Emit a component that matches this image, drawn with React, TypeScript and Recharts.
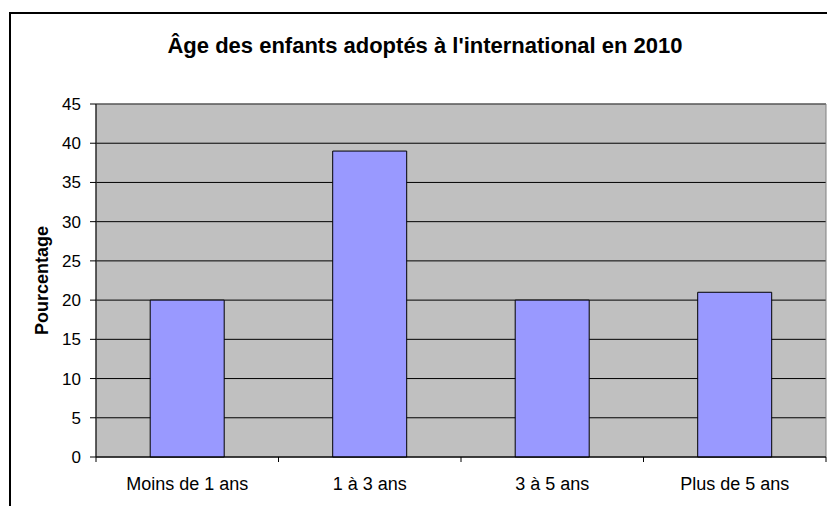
import { BarChart, Bar, XAxis, YAxis, CartesianGrid, ReferenceArea } from 'recharts'

const categories = ['Moins de 1 ans', '1 à 3 ans', '3 à 5 ans', 'Plus de 5 ans']
const values = [20, 39, 20, 21]
const yTicks = [0, 5, 10, 15, 20, 25, 30, 35, 40, 45]
const title = "Âge des enfants adoptés à l'international en 2010"
const yLabel = 'Pourcentage'

const data = categories.map((name, i) => ({ name, value: values[i] }))

const FONT = '"Liberation Sans", Arial, sans-serif'

// x tick: label at the centre, tick marks at the category edges
// eslint-disable-next-line @typescript-eslint/no-explicit-any
function CategoryTick(props: any) {
  const { x, y, payload, index, visibleTicksCount } = props
  const half = payload?.offset || 91.25
  const last = index === (visibleTicksCount ?? categories.length) - 1
  return (
    <g>
      <line x1={x - half} x2={x - half} y1={y - 5} y2={y} stroke="#000" />
      {last && <line x1={x + half} x2={x + half} y1={y - 5} y2={y} stroke="#000" />}
      <text x={x} y={y + 28} textAnchor="middle" fontSize={18} fontFamily={FONT} fill="#000">
        {payload.value}
      </text>
    </g>
  )
}

export default function App() {
  return (
    <div style={{ position: 'fixed', left: 0, top: 0, width: 827, height: 506, background: '#fff', overflow: 'hidden' }}>
      <div style={{ position: 'absolute', left: 9, top: 12, width: 830, height: 520, borderLeft: '2px solid #000', borderTop: '2px solid #000' }} />
      <div
        style={{
          position: 'absolute', left: 0, width: 850, top: 33, textAlign: 'center',
          fontFamily: FONT, fontWeight: 'bold', fontSize: 22, color: '#000', whiteSpace: 'nowrap',
        }}
      >
        {title}
      </div>
      <div style={{ position: 'absolute', left: 0, top: 0 }}>
        <BarChart
          width={827}
          height={506}
          data={data}
          margin={{ top: 104, right: 1, left: 10, bottom: 9 }}
          barCategoryGap="29.7%"
        >
          <CartesianGrid fill="#C0C0C0" stroke="#000" vertical={false} />
          <ReferenceArea y1={0} y2={45} fill="none" stroke="#808080" strokeWidth={1} ifOverflow="visible" />
          <XAxis
            dataKey="name"
            height={40}
            axisLine={{ stroke: '#000' }}
            tickLine={false}
            tickSize={5}
            tickMargin={0}
            interval={0}
            tick={<CategoryTick />}
          />
          <YAxis
            width={86}
            domain={[0, 45]}
            ticks={yTicks}
            interval={0}
            axisLine={{ stroke: '#000' }}
            tickLine={{ stroke: '#000' }}
            tickSize={6}
            tickMargin={9}
            tick={{ fontSize: 17, fill: '#000', fontFamily: FONT }}
            label={{
              value: yLabel, angle: -90, position: 'insideLeft', offset: 31.5,
              style: { textAnchor: 'middle', fontSize: 18, fontWeight: 'bold', fontFamily: FONT, fill: '#000' },
            }}
          />
          <Bar dataKey="value" fill="#9999FF" stroke="#000" strokeWidth={1} isAnimationActive={false} />
        </BarChart>
      </div>
    </div>
  )
}
